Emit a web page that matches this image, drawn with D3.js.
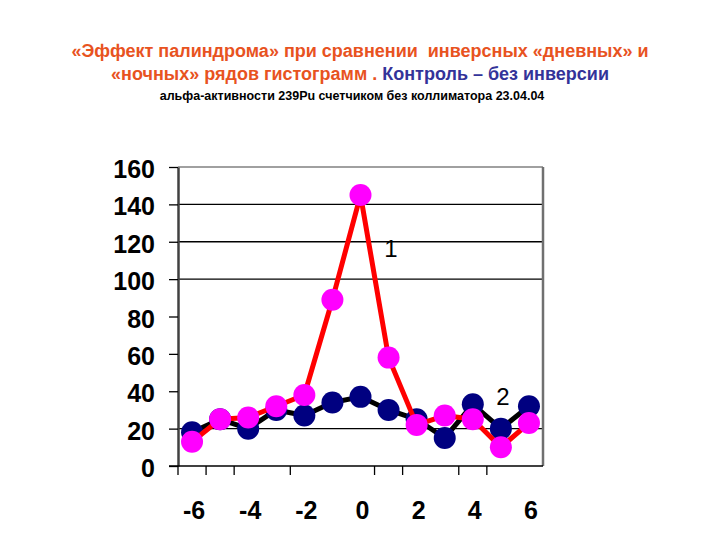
<!DOCTYPE html>
<html><head><meta charset="utf-8">
<script src="https://cdn.jsdelivr.net/npm/d3@7"></script>
<style>body{margin:0;background:#fff}svg{display:block}</style>
</head><body>
<svg id="c" width="720" height="540"></svg>
<script>
const categories = [-6,-5,-4,-3,-2,-1,0,1,2,3,4,5,6];
const series1 = [13,25,26,32,38,89,145,58,22,27,25,10,23]; // "1" magenta/red
const series2 = [18,25,20,30,27,34,37,30,25,15,33,20,32]; // "2" navy/black
const yTicks = [0,20,40,60,80,100,120,140,160];
const gridValues = [20,100,120,140];
const xTickLabels = [-6,-4,-2,0,2,4,6];
const xTickBoundaries = [0,1,2,4,7,8,10,11];

const svg = d3.select("#c");
const L=178, R=543, T=167, B=466;
const x = d3.scaleBand().domain(categories).range([L,R]);
const y = d3.scaleLinear().domain([0,160]).range([B,T]);
const cx = d => x(d)+x.bandwidth()/2;
const FONT = "Arial, Liberation Sans, sans-serif";

// title
const t = svg.append("g").attr("font-family",FONT).attr("font-weight","bold").attr("text-anchor","middle");
t.append("text").attr("x",360).attr("y",57).attr("font-size",18).attr("fill","#E8531F")
  .attr("xml:space","preserve").text("«Эффект палиндрома» при сравнении  инверсных «дневных» и");
const l2 = t.append("text").attr("x",360).attr("y",80).attr("font-size",18);
l2.append("tspan").attr("fill","#E8531F").text("«ночных» рядов гистограмм . ");
l2.append("tspan").attr("fill","#333399").text("Контроль – без инверсии");
t.append("text").attr("x",352).attr("y",100).attr("font-size",12.5).attr("fill","#000")
  .text("альфа-активности 239Pu счетчиком без коллиматора 23.04.04");

// grid
svg.append("g").selectAll("line").data(gridValues).join("line")
  .attr("x1",L).attr("x2",R).attr("y1",d=>y(d)).attr("y2",d=>y(d))
  .attr("stroke","#000").attr("stroke-width",1.3);
// borders
svg.append("line").attr("x1",L).attr("x2",R).attr("y1",T).attr("y2",T).attr("stroke","#808080").attr("stroke-width",1.5);
svg.append("line").attr("x1",R).attr("x2",R).attr("y1",T).attr("y2",B).attr("stroke","#707070").attr("stroke-width",2.5);

// y axis
const ya = svg.append("g").attr("transform",`translate(${L},0)`)
  .call(d3.axisLeft(y).tickValues(yTicks).tickSize(9).tickPadding(14).tickSizeOuter(0));
ya.select(".domain").attr("stroke","#404040").attr("stroke-width",2.5);
ya.selectAll(".tick line").attr("stroke","#000").attr("stroke-width",1.3);
ya.selectAll("text").attr("font-family",FONT).attr("font-weight","bold").attr("font-size",25).attr("fill","#000").attr("dy","0.42em");

// x axis line and ticks
svg.append("line").attr("x1",L-9).attr("x2",R).attr("y1",B).attr("y2",B).attr("stroke","#000").attr("stroke-width",1.5);
svg.append("g").selectAll("line").data(xTickBoundaries).join("line")
  .attr("x1",i=>L+i*x.step()).attr("x2",i=>L+i*x.step()).attr("y1",B).attr("y2",B+9)
  .attr("stroke","#000").attr("stroke-width",1.3);
svg.append("g").selectAll("text").data(xTickLabels).join("text")
  .attr("x",d=>cx(d)+2).attr("y",519).attr("text-anchor","middle")
  .attr("font-family",FONT).attr("font-weight","bold").attr("font-size",25)
  .text(d=>d);

const line = d3.line().x((d,i)=>cx(categories[i])).y(d=>y(d));
// series 2
svg.append("path").datum(series2).attr("d",line).attr("fill","none").attr("stroke","#000").attr("stroke-width",5).attr("stroke-linejoin","round");
svg.append("g").selectAll("circle").data(series2).join("circle")
  .attr("cx",(d,i)=>cx(categories[i])).attr("cy",d=>y(d)).attr("r",11).attr("fill","#000080");
// series 1
svg.append("path").datum(series1).attr("d",line).attr("fill","none").attr("stroke","#FF0000").attr("stroke-width",5).attr("stroke-linejoin","round");
svg.append("g").selectAll("circle").data(series1).join("circle")
  .attr("cx",(d,i)=>cx(categories[i])).attr("cy",d=>y(d)).attr("r",11).attr("fill","#FF00FF");

// labels
svg.append("text").attr("x",391).attr("y",257).attr("text-anchor","middle").attr("font-family",FONT).attr("font-size",24).text("1");
svg.append("text").attr("x",503).attr("y",405).attr("text-anchor","middle").attr("font-family",FONT).attr("font-size",24).text("2");
</script>
</body></html>
